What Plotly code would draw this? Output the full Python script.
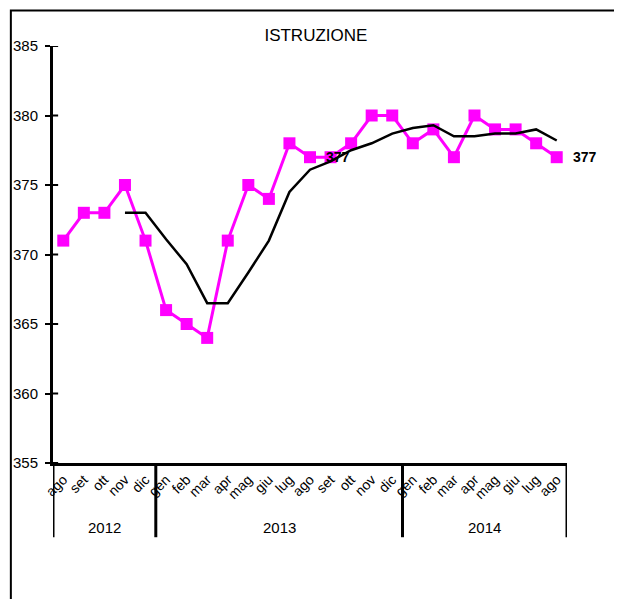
import plotly.graph_objects as go

FONT = "Liberation Sans, Arial, sans-serif"

months = ["ago", "set", "ott", "nov", "dic",
          "gen", "feb", "mar", "apr", "mag", "giu", "lug", "ago", "set", "ott", "nov", "dic",
          "gen", "feb", "mar", "apr", "mag", "giu", "lug", "ago"]
years = ["2012", "2013", "2014"]
year_lengths = [5, 12, 8]

istruzione = [371, 373, 373, 375, 371,
              366, 365, 364, 371, 375, 374, 378, 377, 377, 378, 380, 380,
              378, 379, 377, 380, 379, 379, 378, 377]

# moving average, starts at nov 2012
media_mobile = [None, None, None, 373.0, 373.0,
                371.1, 369.3, 366.5, 366.5, 368.7, 371.0, 374.5, 376.1, 376.7, 377.5, 378.0, 378.7,
                379.1, 379.3, 378.5, 378.5, 378.7, 378.7, 379.0, 378.2]

labelled = [12, 24]

x = list(range(len(months)))

fig = go.Figure()
fig.add_trace(go.Scatter(
    x=x, y=istruzione, mode="lines+markers",
    line=dict(color="#FF00FF", width=3),
    marker=dict(symbol="square", size=12, color="#FF00FF"),
    showlegend=False, hoverinfo="skip",
))
fig.add_trace(go.Scatter(
    x=x, y=media_mobile, mode="lines",
    line=dict(color="black", width=2.5),
    showlegend=False, hoverinfo="skip",
))

shapes = []
annotations = []

# value labels
for i in labelled:
    annotations.append(dict(x=x[i], y=istruzione[i], xref="x", yref="y",
                            text=f"<b>{istruzione[i]}</b>", showarrow=False,
                            xanchor="left", xshift=14,
                            font=dict(family=FONT, size=14, color="black")))

# year group dividers and labels
start = -0.5
for year, n in zip(years, year_lengths):
    annotations.append(dict(x=start + n / 2, y=-0.155, xref="x", yref="paper",
                            text=year, showarrow=False, yanchor="middle",
                            font=dict(family=FONT, size=15, color="black")))
    shapes.append(dict(type="line", xref="x", yref="paper", x0=start, x1=start,
                       y0=0, y1=-0.178, line=dict(color="black", width=3)))
    start += n
shapes.append(dict(type="line", xref="x", yref="paper", x0=start, x1=start,
                   y0=0, y1=-0.178, line=dict(color="black", width=3)))

# inner half of the y ticks
for v in range(355, 390, 5):
    shapes.append(dict(type="line", xref="paper", yref="y", x0=0, x1=0.01,
                       y0=v, y1=v, line=dict(color="black", width=2)))

# outer frame
shapes.append(dict(type="rect", xref="paper", yref="paper", x0=-0.082, x1=1.103,
                   y0=-0.5, y1=1.085, line=dict(color="black", width=2)))

# page body has an 8px margin, so offsets are compensated here
fig.update_layout(
    width=622, height=599,
    margin=dict(l=45, r=63, t=38, b=144),
    paper_bgcolor="white", plot_bgcolor="white",
    font=dict(family=FONT, size=14, color="black"),
    title=dict(text="ISTRUZIONE", x=0.495, xanchor="center", y=0.955, yanchor="middle",
               font=dict(family=FONT, size=17, color="black")),
    xaxis=dict(range=[-0.5, 24.5], tickvals=x, ticktext=months, tickangle=-45,
               showgrid=False, zeroline=False, showline=True, linecolor="black",
               linewidth=3, ticks="", automargin=False, tickfont=dict(family=FONT, size=14)),
    yaxis=dict(range=[355, 385], tickvals=list(range(355, 390, 5)),
               showgrid=False, zeroline=False, showline=True, linecolor="black",
               linewidth=3, ticks="outside", ticklen=5, tickwidth=2, tickcolor="black",
               ticklabelstandoff=4, automargin=False, tickfont=dict(family=FONT, size=15)),
    shapes=shapes,
    annotations=annotations,
)

fig.write_html("out.html")
